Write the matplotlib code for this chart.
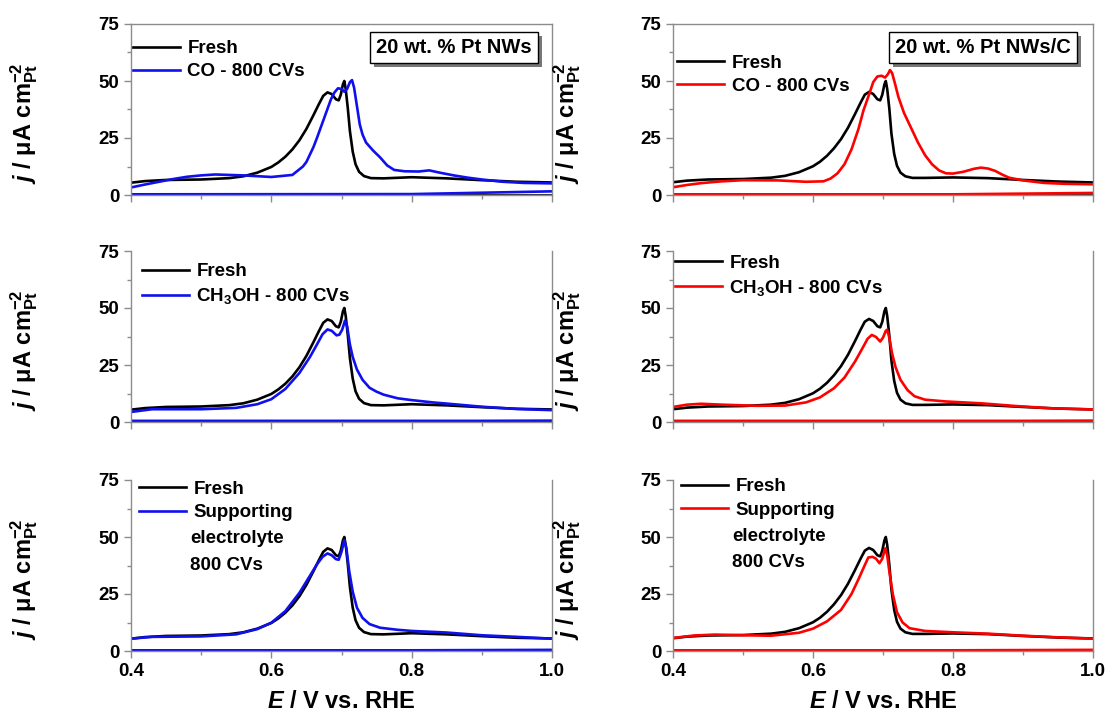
import matplotlib
matplotlib.use("Agg")
import matplotlib.pyplot as plt
from matplotlib import patheffects
from matplotlib.ticker import MultipleLocator

plt.rcParams["font.family"] = ["Liberation Sans", "DejaVu Sans"]
plt.rcParams["mathtext.fontset"] = "custom"
plt.rcParams["mathtext.rm"] = "Liberation Sans:bold"
plt.rcParams["mathtext.it"] = "Liberation Sans:italic:bold"
plt.rcParams["mathtext.bf"] = "Liberation Sans:bold"

BLUE = "#1010ee"
RED = "#ff0000"
GREY = "#8c8c8c"

# ---- data (E in V vs. RHE, j in uA cm^-2) ----
# fresh catalysts (one per column)
E_FRESH_NW = [0.40, 0.42, 0.45, 0.50, 0.54, 0.56, 0.58, 0.60, 0.61, 0.62, 0.63, 0.64,
              0.65, 0.66, 0.668, 0.674, 0.680, 0.686, 0.692, 0.696, 0.699, 0.702,
              0.704, 0.706, 0.709, 0.712, 0.716, 0.720, 0.725, 0.732, 0.742, 0.76,
              0.80, 0.85, 0.90, 0.95, 1.00]
J_FRESH_NW = [5.4, 6.1, 6.6, 6.8, 7.4, 8.2, 9.8, 12.3, 14.3, 16.8, 20.0, 24.0,
              29.0, 35.0, 40.0, 43.5, 45.0, 44.3, 42.0, 41.5, 44.0, 48.5,
              50.0, 46.5, 38.0, 28.0, 19.0, 13.5, 10.2, 8.3, 7.4, 7.3,
              7.8, 7.3, 6.5, 5.8, 5.5]

E_FRESH_NWC = [0.40, 0.42, 0.45, 0.50, 0.54, 0.56, 0.58, 0.60, 0.61, 0.62, 0.63, 0.64,
               0.65, 0.66, 0.668, 0.674, 0.680, 0.686, 0.692, 0.696, 0.699, 0.702,
               0.704, 0.706, 0.709, 0.712, 0.716, 0.720, 0.725, 0.732, 0.742, 0.76,
               0.80, 0.85, 0.90, 0.95, 1.00]
J_FRESH_NWC = [5.6, 6.3, 6.8, 7.0, 7.6, 8.4, 10.0, 12.6, 14.6, 17.2, 20.5, 24.5,
               29.5, 35.5, 40.5, 44.0, 45.2, 44.3, 42.0, 41.5, 44.0, 48.5,
               50.0, 46.5, 38.0, 27.0, 18.0, 12.8, 9.8, 8.2, 7.5, 7.5,
               7.7, 7.4, 6.6, 5.9, 5.5]

# CO - 800 CVs
E_CO_NW = [0.40, 0.42, 0.44, 0.46, 0.48, 0.50, 0.52, 0.56, 0.60, 0.63, 0.645, 0.65,
           0.66, 0.665, 0.675, 0.685, 0.69, 0.695, 0.70, 0.704, 0.708, 0.712, 0.715,
           0.718, 0.722, 0.726, 0.73, 0.735, 0.745, 0.755, 0.765, 0.775, 0.79, 0.81,
           0.825, 0.84, 0.86, 0.88, 0.90, 0.93, 0.96, 1.00]
J_CO_NW = [3.3, 4.6, 5.8, 7.0, 8.0, 8.6, 9.0, 8.6, 7.9, 8.8, 12.5, 14.5,
           21.0, 25.0, 33.5, 42.0, 45.0, 46.8, 46.5, 45.3, 46.5, 49.5, 50.4,
           47.0, 39.0, 31.0, 26.5, 23.0, 19.5, 16.5, 13.0, 11.0, 10.4, 10.3,
           10.8, 9.8, 8.6, 7.6, 6.8, 5.8, 5.3, 5.1]

E_CO_NWC = [0.40, 0.42, 0.44, 0.47, 0.50, 0.55, 0.59, 0.615, 0.625, 0.635, 0.645, 0.655,
            0.665, 0.672, 0.68, 0.686, 0.692, 0.698, 0.703, 0.707, 0.710, 0.713, 0.717,
            0.722, 0.73, 0.74, 0.75, 0.76, 0.77, 0.78, 0.79, 0.80, 0.815, 0.83, 0.84,
            0.85, 0.86, 0.87, 0.88, 0.90, 0.93, 0.96, 1.00]
J_CO_NWC = [3.4, 4.4, 5.2, 6.0, 6.5, 6.4, 5.8, 6.0, 7.2, 9.5, 13.5, 20.0,
            29.0, 37.0, 44.0, 49.5, 52.0, 52.3, 51.5, 53.0, 54.8, 53.5, 49.0,
            43.0, 36.0, 29.5, 23.0, 17.5, 13.5, 10.8, 9.5, 9.4, 10.2, 11.5, 12.0,
            11.6, 10.6, 9.0, 7.6, 6.4, 5.3, 4.9, 4.7]

# CH3OH - 800 CVs
E_MEOH_NW = [0.40, 0.43, 0.50, 0.55, 0.58, 0.60, 0.62, 0.64, 0.655, 0.665, 0.673, 0.68,
             0.686, 0.693, 0.697, 0.701, 0.705, 0.708, 0.712, 0.716, 0.722, 0.73, 0.74,
             0.75, 0.76, 0.78, 0.80, 0.83, 0.86, 0.90, 0.95, 1.00]
J_MEOH_NW = [4.4, 5.6, 5.6, 6.2, 7.8, 10.0, 14.5, 21.5, 28.5, 34.0, 38.5, 40.6,
             40.0, 38.0, 38.3, 40.5, 44.5, 42.0, 34.0, 28.5, 23.0, 18.5, 15.0,
             13.3, 12.0, 10.4, 9.6, 8.6, 7.8, 6.7, 5.7, 5.2]

E_MEOH_NWC = [0.40, 0.42, 0.44, 0.47, 0.52, 0.56, 0.59, 0.61, 0.63, 0.645, 0.66, 0.67,
              0.678, 0.684, 0.69, 0.696, 0.700, 0.704, 0.706, 0.709, 0.713, 0.718, 0.725,
              0.735, 0.745, 0.76, 0.79, 0.84, 0.89, 0.94, 1.00]
J_MEOH_NWC = [6.6, 7.6, 8.0, 7.6, 7.1, 7.2, 8.6, 10.8, 14.8, 19.5, 26.5, 32.0,
              36.5, 38.2, 37.3, 35.3, 37.0, 40.0, 40.5, 37.0, 30.0, 24.0, 18.5,
              14.0, 11.3, 9.8, 9.0, 8.2, 7.0, 6.0, 5.5]

# supporting electrolyte 800 CVs
E_SUPP_NW = [0.40, 0.43, 0.50, 0.55, 0.58, 0.60, 0.62, 0.64, 0.655, 0.665, 0.673, 0.68,
             0.686, 0.692, 0.696, 0.700, 0.704, 0.707, 0.711, 0.716, 0.722, 0.73, 0.74,
             0.755, 0.78, 0.80, 0.85, 0.90, 0.95, 1.00]
J_SUPP_NW = [5.4, 6.2, 6.4, 7.3, 9.6, 12.4, 17.5, 25.5, 33.0, 38.0, 41.3, 42.8,
             42.0, 40.3, 40.0, 43.5, 48.6, 45.0, 35.0, 26.0, 19.0, 14.5, 11.8,
             10.2, 9.3, 8.8, 8.1, 6.9, 6.2, 5.4]

E_SUPP_NWC = [0.40, 0.43, 0.46, 0.50, 0.54, 0.58, 0.60, 0.62, 0.64, 0.655, 0.665, 0.673,
              0.679, 0.685, 0.69, 0.695, 0.699, 0.703, 0.706, 0.709, 0.714, 0.72, 0.728,
              0.738, 0.76, 0.80, 0.85, 0.90, 0.95, 1.00]
J_SUPP_NWC = [5.7, 6.8, 7.2, 6.9, 6.7, 8.0, 9.8, 13.0, 18.0, 25.0, 31.5, 37.0,
              41.0, 41.3, 40.5, 38.5, 40.5, 45.0, 42.0, 35.0, 25.0, 17.0, 12.5,
              10.0, 8.8, 8.2, 7.6, 6.7, 6.0, 5.4]

# near-zero return scans
E_BASE = [0.40, 0.80, 0.90, 1.00]
J_BASE_CO_NW = [0.3, 0.4, 1.0, 1.6]
J_BASE_CO_NWC = [0.3, 0.3, 0.6, 0.9]
J_BASE_MEOH = [0.5, 0.5, 0.5, 0.6]
J_BASE_SUPP = [0.3, 0.3, 0.4, 0.5]
J_BASE_FRESH = [0.1, 0.1, 0.1, 0.1]

W, H = 1108, 715
fig = plt.figure(figsize=(W / 100, H / 100), dpi=100)


def px_axes(x0, y0, x1, y1):
    return fig.add_axes([x0 / W, 1 - y1 / H, (x1 - x0) / W, (y1 - y0) / H])


panels = [
    # (axes px box, fresh data, treated data, colour, base, label, legend anchor, top spine)
    ((131, 24, 552, 195), (E_FRESH_NW, J_FRESH_NW), (E_CO_NW, J_CO_NW), BLUE,
     J_BASE_CO_NW, "CO - 800 CVs", (0.005, 0.905), True),
    ((673, 24, 1093, 195), (E_FRESH_NWC, J_FRESH_NWC), (E_CO_NWC, J_CO_NWC), RED,
     J_BASE_CO_NWC, "CO - 800 CVs", (0.01, 0.82), True),
    ((131, 251, 552, 422), (E_FRESH_NW, J_FRESH_NW), (E_MEOH_NW, J_MEOH_NW), BLUE,
     J_BASE_MEOH, r"CH$_3$OH - 800 CVs", (0.026, 0.93), False),
    ((673, 251, 1093, 422), (E_FRESH_NWC, J_FRESH_NWC), (E_MEOH_NWC, J_MEOH_NWC), RED,
     J_BASE_MEOH, r"CH$_3$OH - 800 CVs", (0.005, 0.98), False),
    ((131, 480, 552, 651), (E_FRESH_NW, J_FRESH_NW), (E_SUPP_NW, J_SUPP_NW), BLUE,
     J_BASE_SUPP, "Supporting", (0.02, 0.995), False),
    ((673, 480, 1093, 651), (E_FRESH_NWC, J_FRESH_NWC), (E_SUPP_NWC, J_SUPP_NWC), RED,
     J_BASE_SUPP, "Supporting", (0.02, 1.01), False),
]

axes = []
for i, (box, fresh, treated, col, base, lab, anchor, top) in enumerate(panels):
    ax = px_axes(*box)
    axes.append(ax)
    ax.plot(E_BASE, J_BASE_FRESH, color="k", lw=1.9)
    ax.plot(E_BASE, base, color=col, lw=1.9)
    ax.plot(*fresh, color="k", lw=1.9, label="Fresh")
    ax.plot(*treated, color=col, lw=1.9, label=lab)
    ax.set_xlim(0.4, 1.0)
    ax.set_ylim(0, 75)
    ax.yaxis.set_major_locator(MultipleLocator(25))
    ax.yaxis.set_minor_locator(MultipleLocator(12.5))
    ax.xaxis.set_major_locator(MultipleLocator(0.2))
    ax.xaxis.set_minor_locator(MultipleLocator(0.1))
    for s in ax.spines.values():
        s.set_color(GREY)
        s.set_linewidth(1.0)
    ax.spines["top"].set_visible(top)
    ax.tick_params(which="both", colors=GREY, labelcolor="k", width=1)
    ax.tick_params(which="major", length=5, labelsize=13.5)
    ax.tick_params(which="minor", length=3)
    for t in ax.get_yticklabels() + ax.get_xticklabels():
        t.set_fontweight("bold")
    if i < 4:
        ax.tick_params(axis="x", labelbottom=False)
    else:
        ax.set_xlabel(r"$E$ / V vs. RHE", fontsize=17, fontweight="bold", labelpad=7)
    ax.set_ylabel(r"$j$ / μA cm$^{-2}_{\rm Pt}$", fontsize=17, fontweight="bold")
    ax.yaxis.set_label_coords(-0.215, 0.42)
    ax.legend(loc="upper left", bbox_to_anchor=anchor, frameon=False,
              borderpad=0, borderaxespad=0, handlelength=2.5,
              handletextpad=0.4, labelspacing=0.32,
              prop={"weight": "bold", "size": 13.5})
    if i >= 4:
        ex = anchor[0] + 0.12
        ax.text(ex, 0.655 if i == 4 else 0.667, "electrolyte", transform=ax.transAxes,
                fontsize=13.5, fontweight="bold", va="center", ha="left")
        ax.text(ex, 0.50 if i == 4 else 0.52, "800 CVs", transform=ax.transAxes,
                fontsize=13.5, fontweight="bold", va="center", ha="left")

# sample boxes with drop shadow
for ax, txt, xc in [(axes[0], "20 wt. % Pt NWs", 0.767), (axes[1], "20 wt. % Pt NWs/C", 0.738)]:
    t = ax.text(xc, 0.862, txt, transform=ax.transAxes, ha="center", va="center",
                fontsize=14.5, fontweight="bold", color="k",
                bbox=dict(boxstyle="square,pad=0.3", fc="white", ec="k", lw=1))
    t.get_bbox_patch().set_path_effects([
        patheffects.withSimplePatchShadow(offset=(3, -3), shadow_rgbFace="#777777", alpha=1.0)])

fig.savefig("out.png", dpi=100)
